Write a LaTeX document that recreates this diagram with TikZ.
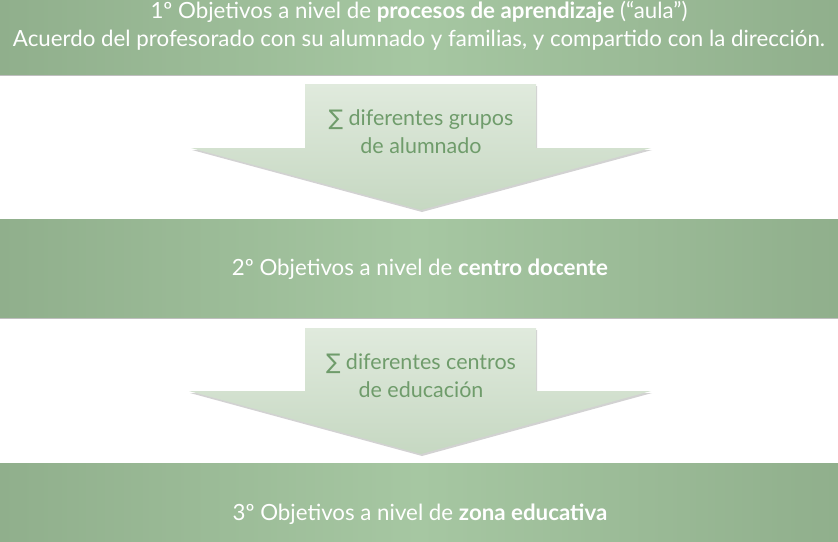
\documentclass[tikz,border=0pt]{standalone}
\usepackage{fontspec}
\setmainfont{Lato}
\newfontfamily\symfont{DejaVu Sans}
\usetikzlibrary{shadows}

\definecolor{bandgreen}{HTML}{A6C7A2}
\definecolor{banddark}{HTML}{90AF8C}
\definecolor{arrowlight}{HTML}{E0EADD}
\definecolor{arrowdark}{HTML}{C6D8C2}
\definecolor{arrowtext}{HTML}{6F9C6B}

\begin{document}
\begin{tikzpicture}[x=1pt, y=-1pt,
	band/.style={left color=banddark, right color=banddark, middle color=bandgreen,
		drop shadow={shadow xshift=0pt, shadow yshift=-2pt, opacity=.5}},
	bandtext/.style={text=white, font=\fontsize{22.3}{28}\selectfont, align=center},
	downarrow/.style={top color=arrowlight, bottom color=arrowdark,
		drop shadow={shadow xshift=1pt, shadow yshift=-2pt, opacity=.35}},
	arrowlabel/.style={text=arrowtext, font=\fontsize{21.5}{28}\selectfont, align=center}]

% bounding box
	\useasboundingbox[fill=white] (0,0) rectangle (838,541);

% green bands
	\path[band] (0,-10) rectangle (838,74);
	\path[band] (0,219) rectangle (838,317);
	\path[band] (0,463) rectangle (838,551);

% arrows
	\path[downarrow] (305,84) -- (536,84) -- (536,148) -- (651,148)
		-- (421,210) -- (191,148) -- (305,148) -- cycle;
	\path[downarrow] (305,328) -- (536,328) -- (536,391) -- (651,391)
		-- (421,454) -- (189,391) -- (305,391) -- cycle;

% texts
	\node[bandtext] (aula) at (419,26)
		{1º Objetivos a nivel de \textbf{procesos de aprendizaje} (“aula”)\\
		Acuerdo del profesorado con su alumnado y familias, y compartido con la dirección.};
	\node[bandtext] (centro) at (420,269)
		{2º Objetivos a nivel de \textbf{centro docente}};
	\node[bandtext] (zona) at (420,514)
		{3º Objetivos a nivel de \textbf{zona educativa}};

	\node[arrowlabel] (grupos) at (421,132)
		{{\symfont ∑} diferentes grupos\\de alumnado};
	\node[arrowlabel] (centros) at (421,376)
		{{\symfont ∑} diferentes centros\\de educación};

\end{tikzpicture}
\end{document}
